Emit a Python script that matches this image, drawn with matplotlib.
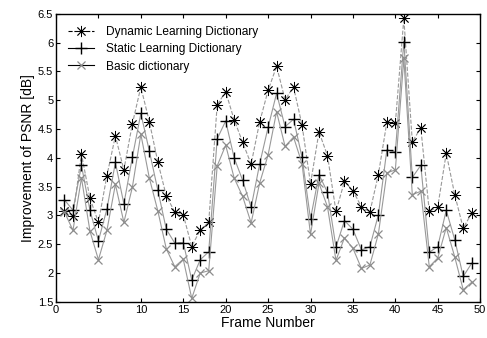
import matplotlib
matplotlib.use("Agg")
import matplotlib.pyplot as plt

plt.rcParams['font.family'] = ['Liberation Sans', 'DejaVu Sans']

frames = list(range(1, 50))

# improvement of PSNR [dB]
dynamic = [3.07, 2.99, 4.07, 3.30, 2.88, 3.69, 4.38, 3.79, 4.59, 5.23,
           4.63, 3.93, 3.34, 3.06, 3.01, 2.46, 2.75, 2.88, 4.92, 5.15,
           4.66, 4.27, 3.89, 4.62, 5.17, 5.59, 5.01, 5.23, 4.57, 3.55,
           4.45, 4.04, 3.07, 3.59, 3.43, 3.15, 3.06, 3.71, 4.62, 4.60,
           6.42, 4.28, 4.52, 3.07, 3.15, 4.08, 3.36, 2.78, 3.04]
static = [3.27, 3.09, 3.87, 3.09, 2.56, 3.11, 3.92, 3.20, 4.01, 4.77,
          4.12, 3.44, 2.76, 2.52, 2.53, 1.88, 2.23, 2.37, 4.33, 4.64,
          4.00, 3.61, 3.14, 3.89, 4.53, 5.12, 4.54, 4.67, 4.01, 2.94,
          3.71, 3.40, 2.45, 2.91, 2.76, 2.40, 2.46, 3.01, 4.14, 4.10,
          6.02, 3.66, 3.87, 2.36, 2.46, 3.09, 2.58, 1.94, 2.17]
basic = [3.06, 2.74, 3.65, 2.73, 2.23, 2.74, 3.54, 2.88, 3.49, 4.41,
         3.65, 3.08, 2.42, 2.11, 2.24, 1.56, 2.00, 2.04, 3.86, 4.22,
         3.65, 3.33, 2.87, 3.56, 4.05, 4.80, 4.20, 4.36, 3.90, 2.67,
         3.56, 3.15, 2.22, 2.61, 2.43, 2.08, 2.14, 2.68, 3.74, 3.79,
         5.73, 3.36, 3.42, 2.11, 2.26, 2.79, 2.28, 1.71, 1.84]

fig = plt.figure(figsize=(4.87, 3.38), dpi=100)
ax = fig.add_axes([0.115, 0.107, 0.871, 0.852])

line_col = '0.6'
ax.plot(frames, dynamic, linestyle='--', color=line_col, lw=0.8,
        marker=(8, 2, 0), ms=8, mec='black', mew=0.6,
        label='Dynamic Learning Dictionary')
ax.plot(frames, static, linestyle='-', color=line_col, lw=0.8,
        marker='+', ms=8, mec='black', mew=1.0,
        label='Static Learning Dictionary')
ax.plot(frames, basic, linestyle='-', color=line_col, lw=0.8,
        marker='x', ms=6, mec='0.55', mew=0.9,
        label='Basic dictionary')

ax.set_xlim(0, 50)
ax.set_ylim(1.5, 6.5)
ax.set_xticks(range(0, 51, 5))
ax.set_yticks([1.5, 2, 2.5, 3, 3.5, 4, 4.5, 5, 5.5, 6, 6.5])
ax.set_yticklabels(['1.5', '2', '2.5', '3', '3.5', '4', '4.5', '5', '5.5', '6', '6.5'])
ax.tick_params(direction='in', top=True, right=True, labelsize=8, length=3, pad=2)
for s in ax.spines.values():
    s.set_linewidth(1.0)

ax.set_xlabel('Frame Number', fontsize=10, labelpad=1)
ax.set_ylabel('Improvement of PSNR [dB]', fontsize=10, labelpad=2)

leg = ax.legend(loc='upper left', frameon=False, fontsize=8.6,
                handlelength=2.2, handletextpad=1.0, labelspacing=0.45,
                borderaxespad=0.8, borderpad=0.2)
for h in leg.legend_handles:
    h.set_color('black')
leg.legend_handles[2].set_markeredgecolor('0.55')

fig.savefig('out.png', dpi=100)
